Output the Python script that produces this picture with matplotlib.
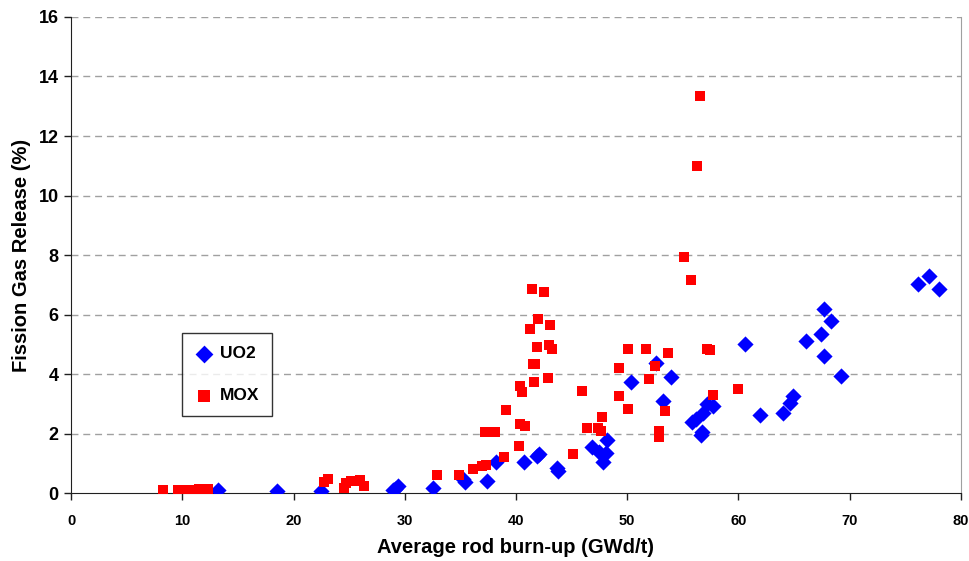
import matplotlib
matplotlib.use("Agg")
import matplotlib.pyplot as plt

plt.rcParams['font.family'] = ['Liberation Sans', 'DejaVu Sans']

uo2_x = [13.2, 18.5, 22.5, 28.9, 29.1, 29.4, 32.5, 35.2, 35.4, 37.4, 38.2, 40.7,
         41.9, 42.1, 43.7, 43.8, 46.8, 47.5, 47.8, 48.1, 48.2, 50.3, 52.6, 53.2,
         53.9, 55.8, 56.2, 56.6, 56.7, 56.8, 57.2, 57.7, 60.6, 61.9, 64.0, 64.6,
         64.9, 66.1, 67.4, 67.7, 67.7, 68.3, 69.2, 76.1, 77.1, 78.0]
uo2_y = [0.10, 0.08, 0.08, 0.10, 0.15, 0.22, 0.16, 0.48, 0.38, 0.40, 1.03, 1.05,
         1.25, 1.30, 0.85, 0.74, 1.56, 1.39, 1.04, 1.33, 1.78, 3.73, 4.36, 3.09,
         3.89, 2.39, 2.48, 1.95, 2.05, 2.70, 2.99, 2.92, 5.02, 2.62, 2.70, 3.01,
         3.26, 5.12, 5.36, 6.17, 4.62, 5.79, 3.93, 7.03, 7.31, 6.85]

mox_x = [8.3, 9.6, 10.0, 10.5, 11.0, 11.5, 11.9, 12.3, 22.7, 23.1, 24.5, 24.7,
         25.2, 25.6, 26.0, 26.3, 32.9, 34.9, 36.1, 36.9, 37.3, 37.2, 37.5, 38.1,
         38.9, 39.1, 40.3, 40.4, 40.5, 40.4, 40.8, 41.3, 41.4, 41.5, 41.7, 41.6,
         41.9, 42.0, 42.5, 42.9, 43.0, 43.1, 43.2, 45.1, 45.9, 46.4, 47.4, 47.6,
         47.7, 49.3, 49.3, 50.1, 50.1, 51.7, 52.0, 52.5, 52.9, 52.9, 53.4, 53.7,
         55.1, 55.7, 56.3, 56.5, 57.2, 57.4, 57.7, 60.0]
mox_y = [0.10, 0.10, 0.08, 0.10, 0.10, 0.12, 0.15, 0.15, 0.37, 0.47, 0.18, 0.33,
         0.40, 0.40, 0.45, 0.24, 0.60, 0.62, 0.80, 0.91, 0.94, 2.04, 2.06, 2.04,
         1.22, 2.78, 1.58, 3.61, 3.41, 2.33, 2.25, 5.50, 6.86, 4.33, 4.33, 3.74,
         4.90, 5.85, 6.75, 3.88, 4.97, 5.65, 4.83, 1.31, 3.44, 2.20, 2.20, 2.08,
         2.57, 3.25, 4.19, 2.82, 4.85, 4.85, 3.83, 4.27, 2.08, 1.87, 2.76, 4.70,
         7.93, 7.15, 10.99, 13.35, 4.85, 4.81, 3.29, 3.51]

x_ticks = [0, 10, 20, 30, 40, 50, 60, 70, 80]
y_ticks = [0, 2, 4, 6, 8, 10, 12, 14, 16]

fig = plt.figure(figsize=(9.69, 5.61), dpi=100)
ax = fig.add_axes([0.0733, 0.1212, 0.9184, 0.8485])

ax.scatter(uo2_x, uo2_y, marker='D', s=68, color='#0000FF', label='UO2', zorder=3, linewidths=0)
ax.scatter(mox_x, mox_y, marker='s', s=60, color='#FF0000', label='MOX', zorder=3, linewidths=0)

ax.set_xlim(0, 80)
ax.set_ylim(0, 16)
ax.set_xticks(x_ticks)
ax.set_yticks(y_ticks)
ax.set_xticklabels([str(t) for t in x_ticks], fontsize=10.5, fontweight='bold')
ax.set_yticklabels([str(t) for t in y_ticks], fontsize=13, fontweight='bold')

for yv in y_ticks[1:]:
    ax.axhline(yv, color='#A0A0A0', linestyle=(0, (5, 3.5)), linewidth=1.0, zorder=1)

ax.spines['top'].set_visible(False)
ax.spines['right'].set_color('#A0A0A0')
ax.spines['left'].set_color('#202020')
ax.spines['bottom'].set_color('#202020')
ax.tick_params(axis='both', direction='out', length=5, width=1, color='#202020')
ax.tick_params(axis='x', pad=10)
ax.tick_params(axis='y', pad=4)

ax.set_xlabel('Average rod burn-up (GWd/t)', fontsize=14.5, fontweight='bold', labelpad=7)
ax.set_ylabel('Fission Gas Release (%)', fontsize=14.5, fontweight='bold', labelpad=5)

leg = ax.legend(loc='upper left', bbox_to_anchor=(0.125, 0.336, 0.101, 0.0), mode='expand',
                frameon=True, fancybox=False, edgecolor='black',
                prop={'weight': 'bold', 'size': 12.5},
                handletextpad=0.44, labelspacing=1.55, borderpad=0.75, handlelength=1.0,
                borderaxespad=0, markerscale=1.1)
leg.get_frame().set_linewidth(1.0)

fig.savefig('out.png', dpi=100)
